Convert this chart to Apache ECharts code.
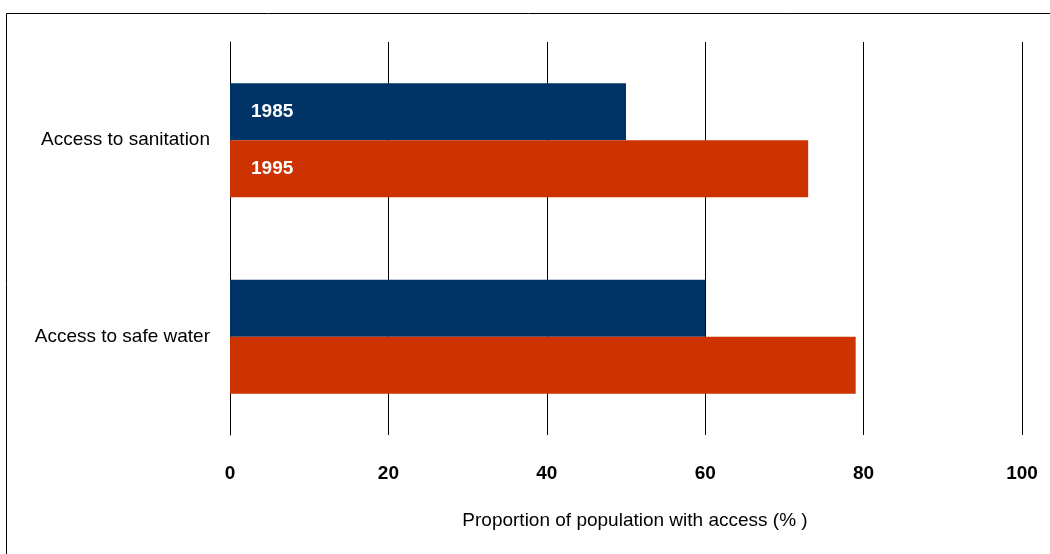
<!DOCTYPE html>
<html>
<head>
<meta charset="utf-8">
<script src="https://cdn.jsdelivr.net/npm/echarts@6/dist/echarts.min.js"></script>
<style>
  html, body { margin: 0; padding: 0; background: #fff; }
  #chart { width: 1050px; height: 554px; }
</style>
</head>
<body>
<div id="chart"></div>
<script>
// categories and values
var categories = ['Access to sanitation', 'Access to safe water'];
var years = ['1985', '1995'];
var values1985 = [50, 60];
var values1995 = [73, 79];
var xTicks = [0, 20, 40, 60, 80, 100];

var FONT = '"Liberation Sans Narrow", "Arial Narrow", "Liberation Sans", sans-serif';

var chart = echarts.init(document.getElementById('chart'));

// only the first category carries the year labels inside the bars
function withLabel(arr, year) {
  return arr.map(function (v, i) {
    if (i !== 0) return v;
    return {
      value: v,
      label: {
        show: true,
        position: 'insideLeft',
        distance: 21,
        formatter: year,
        color: '#fff',
        fontFamily: FONT,
        fontWeight: 'bold',
        fontSize: 19
      }
    };
  });
}

chart.setOption({
  animation: false,
  backgroundColor: '#fff',
  graphic: [{
    type: 'rect',
    shape: { x: 6.5, y: 13.5, width: 1100, height: 600 },
    style: { fill: 'none', stroke: '#000', lineWidth: 1 },
    silent: true
  }],
  grid: {
    left: 230,
    right: 28,
    top: 42,
    bottom: 119
  },
  xAxis: {
    type: 'value',
    min: xTicks[0],
    max: xTicks[xTicks.length - 1],
    interval: 20,
    axisLine: { show: false },
    axisTick: { show: false },
    splitLine: { show: true, lineStyle: { color: '#000', width: 1 } },
    axisLabel: {
      margin: 29,
      color: '#000',
      fontFamily: FONT,
      fontWeight: 'bold',
      fontSize: 19
    },
    name: 'Proportion of population with access (% )',
    nameLocation: 'middle',
    nameGap: 76,
    nameTextStyle: {
      color: '#000',
      fontFamily: FONT,
      fontSize: 19,
      padding: [0, 0, 0, 18]
    }
  },
  yAxis: {
    type: 'category',
    inverse: true,
    data: categories,
    axisLine: { show: true, lineStyle: { color: '#000', width: 1 } },
    axisTick: { show: false },
    axisLabel: {
      margin: 20,
      color: '#000',
      fontFamily: FONT,
      fontSize: 19
    }
  },
  series: [
    {
      name: years[0],
      type: 'bar',
      data: withLabel(values1985, years[0]),
      itemStyle: { color: '#003366' },
      barGap: 0,
      barCategoryGap: '42%'
    },
    {
      name: years[1],
      type: 'bar',
      data: withLabel(values1995, years[1]),
      itemStyle: { color: '#CC3300' },
      barGap: 0,
      barCategoryGap: '42%'
    }
  ]
});
</script>
</body>
</html>
